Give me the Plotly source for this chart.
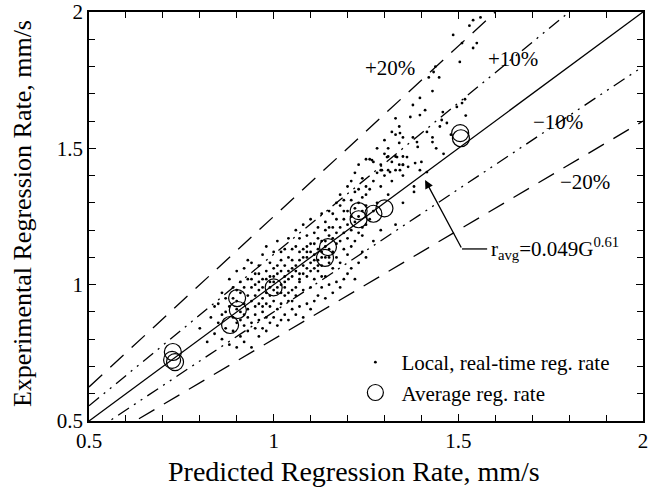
import plotly.graph_objects as go

# ---------------- data ----------------
# Local, real-time regression rate (predicted x, experimental y), mm/s
local_x = [
    0.80, 0.82, 0.83, 0.84, 0.85, 0.85, 0.86, 0.86, 0.87, 0.87, 0.88, 0.88, 0.86, 0.84, 0.87,
    0.88, 0.89, 0.89, 0.89, 0.90, 0.90, 0.90, 0.90, 0.91, 0.91,
    0.91, 0.91, 0.92, 0.92, 0.92, 0.92, 0.93, 0.93, 0.93, 0.93,
    0.93, 0.94, 0.94, 0.94, 0.94, 0.95, 0.95, 0.95, 0.95, 0.95,
    0.89, 0.90, 0.91, 0.92, 0.93, 0.94, 0.95, 0.90, 0.92, 0.94,
    0.96, 0.96, 0.96, 0.96, 0.96, 0.97, 0.97, 0.97, 0.97, 0.97,
    0.98, 0.98, 0.98, 0.98, 0.98, 0.99, 0.99, 0.99, 0.99, 0.99,
    1.00, 1.00, 1.00, 1.00, 1.00, 1.01, 1.01, 1.01, 1.01, 1.01,
    1.02, 1.02, 1.02, 1.02, 1.02, 1.03, 1.03, 1.03, 1.03, 1.03,
    1.04, 1.04, 1.04, 1.04, 1.04, 1.05, 1.05, 1.05, 1.05, 1.05,
    0.96, 0.97, 0.98, 0.99, 1.00, 1.01, 1.02, 1.03, 1.04, 1.05,
    0.97, 0.99, 1.01, 1.03, 1.05, 0.98, 1.00, 1.02, 1.04, 0.96,
    1.06, 1.06, 1.06, 1.06, 1.06, 1.07, 1.07, 1.07, 1.07, 1.07,
    1.08, 1.08, 1.08, 1.08, 1.08, 1.09, 1.09, 1.09, 1.09, 1.09,
    1.10, 1.10, 1.10, 1.10, 1.10, 1.11, 1.11, 1.11, 1.11, 1.11,
    1.12, 1.12, 1.12, 1.12, 1.12, 1.13, 1.13, 1.13, 1.13, 1.13,
    1.14, 1.14, 1.14, 1.14, 1.14, 1.15, 1.15, 1.15, 1.15, 1.15,
    1.06, 1.07, 1.08, 1.09, 1.10, 1.11, 1.12, 1.13, 1.14, 1.15,
    1.06, 1.08, 1.10, 1.12, 1.14, 1.07, 1.09, 1.11, 1.13, 1.15,
    1.16, 1.16, 1.16, 1.16, 1.16, 1.17, 1.17, 1.17, 1.17, 1.17,
    1.18, 1.18, 1.18, 1.18, 1.18, 1.19, 1.19, 1.19, 1.19, 1.19,
    1.20, 1.20, 1.20, 1.20, 1.20, 1.21, 1.21, 1.21, 1.21, 1.21,
    1.22, 1.22, 1.22, 1.22, 1.22, 1.23, 1.23, 1.23, 1.23, 1.23,
    1.24, 1.24, 1.24, 1.24, 1.24, 1.25, 1.25, 1.25, 1.25, 1.25,
    1.17, 1.19, 1.21, 1.23, 1.25, 1.16, 1.18, 1.20, 1.22, 1.24,
    1.26, 1.26, 1.26, 1.27, 1.27, 1.27, 1.28, 1.28, 1.28, 1.29,
    1.29, 1.29, 1.30, 1.30, 1.30, 1.31, 1.31, 1.31, 1.32, 1.32,
    1.32, 1.33, 1.33, 1.33, 1.34, 1.34, 1.34, 1.35, 1.35, 1.35,
    1.27, 1.29, 1.31, 1.33, 1.35,
    1.377, 1.388, 1.39, 1.342, 1.307, 1.334, 1.361, 1.266, 1.35, 1.364,
    1.383, 1.293, 1.315, 1.342, 1.396, 1.415, 1.396, 1.41, 1.37, 1.458,
    1.455, 1.469, 1.415, 1.43, 1.43, 1.377, 1.396, 1.43, 1.42, 1.433,
    1.438, 1.448, 1.504, 1.51, 1.54, 1.55, 1.486, 1.53, 1.54, 1.56,
    1.518, 1.51, 1.496, 1.44, 1.46, 1.48, 1.38, 1.45, 1.52, 1.40,
    1.35, 1.33, 1.38,
]
local_y = [
    0.84, 0.79, 0.88, 0.82, 0.93, 0.86, 0.80, 0.97, 0.90, 0.84, 1.02, 0.78, 0.89, 0.92, 0.95,
    0.92, 0.83, 0.99, 0.88, 0.77, 0.94, 1.05, 0.86, 0.90, 0.81,
    0.97, 1.01, 0.85, 0.93, 1.06, 0.79, 0.88, 0.96, 1.02, 0.83,
    0.91, 0.86, 0.99, 1.08, 0.77, 0.92, 0.84, 1.04, 0.96, 0.89,
    0.95, 0.98, 0.87, 0.99, 1.09, 0.94, 1.00, 0.91, 0.89, 1.02,
    0.98, 0.87, 1.07, 0.93, 0.81, 0.95, 1.02, 0.84, 1.11, 0.90,
    0.97, 1.05, 0.88, 0.83, 1.14, 0.99, 0.92, 1.08, 0.86, 1.03,
    1.01, 0.94, 1.12, 0.88, 1.06, 0.97, 1.04, 0.91, 1.16, 0.85,
    1.00, 1.09, 0.93, 0.87, 1.05, 1.03, 0.96, 1.13, 0.89, 1.07,
    1.02, 0.94, 1.10, 0.87, 1.17, 1.06, 0.98, 1.13, 0.91, 1.03,
    1.01, 0.99, 1.02, 0.96, 0.98, 1.07, 1.12, 0.99, 0.97, 1.09,
    0.92, 1.01, 0.99, 1.01, 0.94, 0.93, 1.03, 0.97, 1.05, 1.04,
    1.05, 0.96, 1.14, 0.89, 1.20, 1.09, 1.01, 0.92, 1.17, 1.04,
    1.07, 0.88, 1.13, 0.98, 1.22, 1.10, 1.03, 0.93, 1.18, 1.06,
    1.12, 0.99, 1.24, 0.91, 1.08, 1.11, 1.02, 1.19, 0.94, 1.15,
    1.13, 1.05, 0.96, 1.21, 1.09, 1.16, 1.07, 0.99, 1.26, 1.12,
    1.14, 1.03, 1.20, 0.95, 1.10, 1.18, 1.08, 1.27, 1.00, 1.13,
    1.07, 1.12, 1.04, 1.14, 1.05, 1.09, 1.17, 1.10, 1.16, 1.21,
    0.99, 1.10, 1.15, 1.07, 1.23, 1.02, 1.12, 1.06, 1.03, 1.10,
    1.17, 1.06, 1.26, 0.97, 1.12, 1.19, 1.10, 1.30, 1.01, 1.15,
    1.21, 1.08, 1.33, 0.99, 1.16, 1.24, 1.13, 1.02, 1.31, 1.19,
    1.22, 1.11, 1.36, 1.04, 1.27, 1.25, 1.14, 1.38, 1.06, 1.20,
    1.28, 1.16, 1.41, 1.02, 1.23, 1.30, 1.19, 1.44, 1.08, 1.25,
    1.32, 1.21, 1.12, 1.39, 1.27, 1.33, 1.22, 1.46, 1.10, 1.29,
    1.24, 1.27, 1.31, 1.35, 1.36, 1.21, 1.29, 1.17, 1.34, 1.18,
    1.35, 1.24, 1.46, 1.38, 1.27, 1.16, 1.41, 1.30, 1.50, 1.36,
    1.44, 1.20, 1.40, 1.48, 1.53, 1.42, 1.47, 1.33, 1.45, 1.56,
    1.38, 1.47, 1.55, 1.42, 1.44, 1.52, 1.58, 1.47, 1.54, 1.44,
    1.45, 1.42, 1.50, 1.61, 1.40,
    1.54, 1.523, 1.505, 1.556, 1.468, 1.468, 1.468, 1.457, 1.439, 1.432,
    1.446, 1.42, 1.413, 1.42, 1.42, 1.413, 1.685, 1.64, 1.615, 1.633,
    1.604, 1.593, 1.56, 1.54, 1.523, 1.659, 1.622, 1.71, 1.76, 1.78,
    1.80, 1.76, 1.817, 1.886, 1.868, 1.886, 1.916, 1.95, 1.97, 1.98,
    1.68, 1.666, 1.652, 1.50, 1.48, 1.55, 1.36, 1.58, 1.62, 1.45,
    1.30, 1.22, 1.34,
]

# Average regression rate
avg_x = [0.727, 0.725, 0.733, 0.901, 0.903, 0.882, 1.00, 1.139, 1.147, 1.23, 1.23, 1.27, 1.30, 1.505, 1.507]
avg_y = [0.753, 0.724, 0.716, 0.951, 0.907, 0.852, 0.99, 1.098, 1.138, 1.27, 1.24, 1.26, 1.28, 1.556, 1.537]

# Reference lines: experimental = factor * predicted
line_names = ["+20%", "+10%", "fit", "-10%", "-20%"]
line_factors = [1 / 0.8, 1 / 0.9, 1.0, 0.9, 0.8]
line_dashes = ["18px,11px", "13px,6px,2px,6px,2px,6px", "solid",
               "13px,6px,2px,6px,2px,6px", "18px,11px"]
line_x = [0.5, 2.0]

tick_vals = [0.5, 1, 1.5, 2]
tick_text = ["0.5", "1", "1.5", "2"]

FONT = "Liberation Serif, Times New Roman, serif"

fig = go.Figure()

for name, f, d in zip(line_names, line_factors, line_dashes):
    fig.add_trace(go.Scatter(
        x=line_x, y=[f * v for v in line_x], mode="lines",
        line=dict(color="black", width=1.3, dash=d),
        showlegend=False, hoverinfo="skip", name=name))

fig.add_trace(go.Scatter(
    x=local_x, y=local_y, mode="markers", name="Local, real-time reg. rate",
    marker=dict(color="black", size=2.8, line=dict(width=0)),
    legendgroup="a"))

fig.add_trace(go.Scatter(
    x=avg_x, y=avg_y, mode="markers", name="Average reg. rate",
    marker=dict(symbol="circle-open", color="black", size=17, line=dict(width=1.2, color="black")),
    legendgroup="b"))

axis_common = dict(
    range=[0.5, 2], tickvals=tick_vals, ticktext=tick_text,
    ticks="inside", ticklen=7, tickwidth=1, tickcolor="black",
    minor=dict(dtick=0.1, ticks="inside", ticklen=6, tickwidth=1, tickcolor="black"),
    showline=True, linecolor="black", linewidth=1.5, mirror="ticks",
    showgrid=False, zeroline=False, automargin=False,
    tickfont=dict(family=FONT, size=21, color="black"),
)

fig.update_xaxes(**axis_common)
fig.update_yaxes(**axis_common)

# axis titles
fig.add_annotation(xref="paper", yref="paper", x=0.478, y=0, yshift=-50,
                   text="Predicted Regression Rate, mm/s", showarrow=False,
                   xanchor="center", yanchor="middle",
                   font=dict(family=FONT, size=28, color="black"))
fig.add_annotation(xref="paper", yref="paper", x=0, y=0.506, xshift=-67,
                   text="Experimental Regression Rate, mm/s", showarrow=False,
                   textangle=-90, xanchor="center", yanchor="middle",
                   font=dict(family=FONT, size=26, color="black"))

labels = [("+20%", 1.315, 1.795), ("+10%", 1.648, 1.828), ("\u221210%", 1.770, 1.597), ("\u221220%", 1.843, 1.377)]
for t, x, y in labels:
    fig.add_annotation(x=x, y=y, text=t, showarrow=False,
                       font=dict(family=FONT, size=21, color="black"))

# correlation pointer
fig.add_annotation(x=1.41, y=1.384, ax=1.510, ay=1.131, axref="x", ayref="y",
                   text="", showarrow=True, arrowhead=2, arrowsize=1.3, arrowwidth=1.3,
                   arrowcolor="black")
fig.add_shape(type="line", x0=1.510, x1=1.578, y0=1.131, y1=1.131,
              line=dict(color="black", width=1.3))
fig.add_annotation(x=1.584, y=1.131, text="r<sub>avg</sub>=0.049G<sup>0.61</sup>",
                   showarrow=False, xanchor="left", yanchor="middle",
                   font=dict(family=FONT, size=21, color="black"))

fig.update_layout(
    width=653, height=496,
    margin=dict(l=89, r=10, t=12, b=75, autoexpand=False),
    paper_bgcolor="white", plot_bgcolor="white",
    font=dict(family=FONT, color="black"),
    legend=dict(x=0.47, y=0.193, xanchor="left", yanchor="top",
                bgcolor="rgba(0,0,0,0)", borderwidth=0,
                font=dict(family=FONT, size=21, color="black"),
                tracegroupgap=0, itemwidth=42),
    showlegend=True,
)

fig.write_html("out.html", config={"displayModeBar": False},
               post_script="document.body.style.margin='0';")
